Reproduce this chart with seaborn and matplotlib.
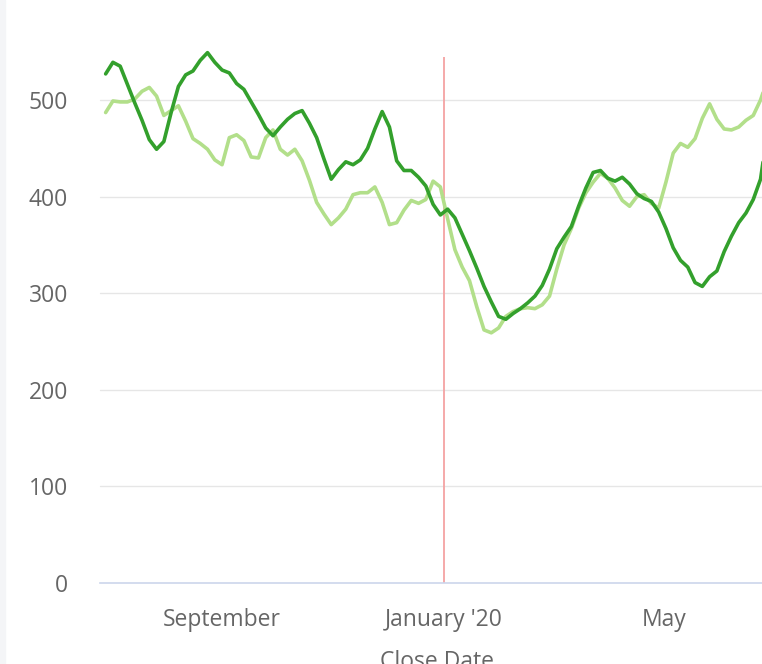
import numpy as np
import pandas as pd
import matplotlib
matplotlib.use("Agg")
import matplotlib.pyplot as plt
from matplotlib.patches import Rectangle
import seaborn as sns

# ---- data ----
dates = pd.date_range("2019-06-29", periods=93, freq="4D")

series_dark = [
    527, 539, 535, 516, 497, 479, 459, 449, 457, 487,
    514, 526, 530, 541, 549, 539, 531, 528, 517, 511,
    498, 485, 471, 463, 472, 480, 486, 489, 476, 461,
    439, 418, 428, 436, 433, 438, 450, 470, 488, 472,
    437, 427, 427, 420, 411, 392, 381, 387, 378, 361,
    344, 326, 307, 291, 276, 273, 279, 284, 290, 297,
    308, 325, 346, 358, 369, 390, 409, 425, 427, 419,
    416, 420, 413, 403, 398, 395, 384, 367, 347, 334,
    327, 311, 307, 317, 323, 343, 359, 373, 383, 397,
    418, 470, 500,
]
series_light = [
    487, 499, 498, 498, 501, 509, 513, 504, 484, 489,
    494, 478, 460, 455, 449, 438, 433, 461, 464, 458,
    441, 440, 461, 469, 449, 443, 449, 437, 417, 394,
    382, 371, 378, 387, 402, 404, 404, 410, 394, 371,
    373, 386, 396, 393, 397, 416, 410, 377, 345, 327,
    313, 286, 262, 259, 264, 276, 281, 284, 285, 284,
    288, 297, 325, 350, 367, 388, 404, 415, 424, 419,
    409, 396, 390, 400, 402, 393, 388, 415, 445, 455,
    451, 460, 481, 496, 480, 470, 469, 472, 479, 484,
    500, 522, 540,
]
series_names = ["Series 1", "Series 2"]
series_colors = ["#33a02c", "#b2df8a"]

xtick_dates = ["2019-09-01", "2020-01-01", "2020-05-01"]
xtick_labels = ["September", "January '20", "May"]
ytick_values = [0, 100, 200, 300, 400, 500]
marker_date = "2020-01-01"
x_label = "Close Date"

df = pd.concat([
    pd.DataFrame({"date": dates, "value": series_dark, "series": series_names[0]}),
    pd.DataFrame({"date": dates, "value": series_light, "series": series_names[1]}),
])

# ---- styling ----
sns.set_style("white")
plt.rcParams["font.family"] = ["Open Sans", "DejaVu Sans"]

W, H = 762, 664
fig = plt.figure(figsize=(W / 100, H / 100), dpi=100)
ax = fig.add_axes([100 / W, 81 / H, (774 - 100) / W, (583 - 57) / H])

# light strip at left edge
fig.patches.append(Rectangle((0, 0), 5 / W, 1, transform=fig.transFigure,
                             color="#f4f5f7", zorder=0))

for y in ytick_values[1:]:
    ax.axhline(y, color="#e6e6e6", lw=1.0, zorder=0)

# draw light series first so the dark one sits on top
sns.lineplot(data=df, x="date", y="value", hue="series",
             hue_order=[series_names[1], series_names[0]],
             palette={series_names[0]: series_colors[0], series_names[1]: series_colors[1]},
             linewidth=2.6, legend=False, ax=ax)
for ln in ax.get_lines():
    ln.set_clip_on(False)
    ln.set_solid_capstyle("round")
    ln.set_solid_joinstyle("round")

ax.axvline(pd.Timestamp(marker_date), color="#f4a3a3", lw=1.3, zorder=1)

x0 = pd.Timestamp("2020-01-01") + pd.Timedelta(days=-189.1)
x1 = pd.Timestamp("2020-01-01") + pd.Timedelta(days=181.4)
ax.set_xlim(x0, x1)
ax.set_ylim(0, 544.5)

ax.set_xticks([pd.Timestamp(d) for d in xtick_dates])
ax.set_xticklabels(xtick_labels)
ax.set_yticks(ytick_values)
ax.set_yticklabels([str(v) for v in ytick_values])

ax.tick_params(axis="y", length=0, pad=23, labelsize=16.5, labelcolor="#666666")
ax.tick_params(axis="x", length=0, pad=18, labelsize=16.5, labelcolor="#666666")

for s in ["top", "right", "left"]:
    ax.spines[s].set_visible(False)
ax.spines["bottom"].set_color("#ccd6eb")
ax.spines["bottom"].set_linewidth(1.2)

ax.set_xlabel(x_label, fontsize=16.5, color="#666666", labelpad=13)
ax.set_ylabel("")

fig.savefig("out.png", dpi=100)
